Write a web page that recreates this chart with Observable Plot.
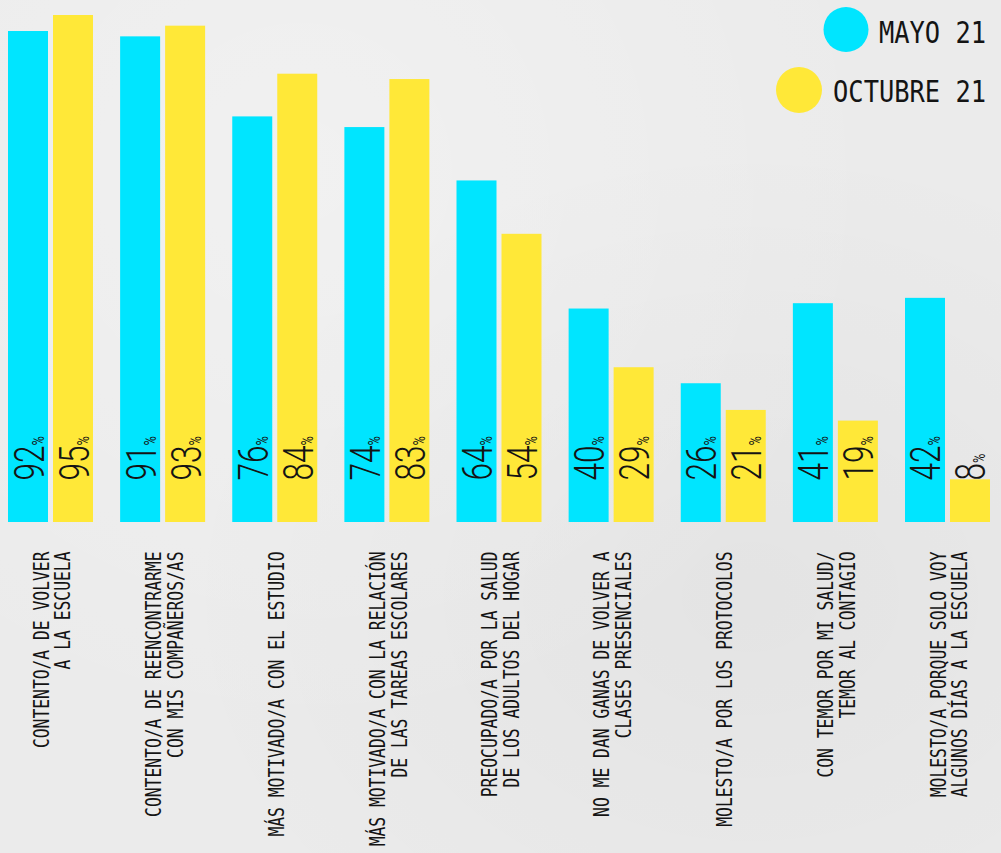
<!DOCTYPE html>
<html>
<head>
<meta charset="utf-8">
<script src="https://cdn.jsdelivr.net/npm/d3@7"></script>
<script src="https://cdn.jsdelivr.net/npm/@observablehq/plot@0.6"></script>
<style>
  html, body { margin: 0; padding: 0; }
  body {
    width: 1001px; height: 853px; overflow: hidden; position: relative;
    background-color: #ebebeb;
    background-image:
      radial-gradient(ellipse at 30% 20%, rgba(255,255,255,0.3), rgba(255,255,255,0) 60%),
      radial-gradient(ellipse at 75% 70%, rgba(0,0,0,0.03), rgba(0,0,0,0) 55%);
  }
  #chart { position: absolute; left: 0; top: 0; }
  #legend { position: absolute; left: 0; top: 0; pointer-events: none; }
</style>
</head>
<body>
<div id="chart"></div>
<svg id="legend" width="1001" height="130"></svg>
<script>
// ---- data ----
const categories = [
  "CONTENTO/A DE VOLVER\nA LA ESCUELA",
  "CONTENTO/A DE REENCONTRARME\nCON MIS COMPAÑEROS/AS",
  "MÁS MOTIVADO/A CON EL ESTUDIO",
  "MÁS MOTIVADO/A CON LA RELACIÓN\nDE LAS TAREAS ESCOLARES",
  "PREOCUPADO/A POR LA SALUD\nDE LOS ADULTOS DEL HOGAR",
  "NO ME DAN GANAS DE VOLVER A\nCLASES PRESENCIALES",
  "MOLESTO/A POR LOS PROTOCOLOS",
  "CON TEMOR POR MI SALUD/\nTEMOR AL CONTAGIO",
  "MOLESTO/A PORQUE SOLO VOY\nALGUNOS DÍAS A LA ESCUELA"
];
const mayo21 = [92, 91, 76, 74, 64, 40, 26, 41, 42];
const octubre21 = [95, 93, 84, 83, 54, 29, 21, 19, 8];
const seriesNames = ["MAYO 21", "OCTUBRE 21"];
const seriesColors = ["#00e5ff", "#ffe838"];

const rows = categories.map((c, i) => ({category: c, mayo: mayo21[i], octubre: octubre21[i]}));

const textColor = "#141414";

const chart = Plot.plot({
  width: 1001,
  height: 853,
  marginTop: 15,
  marginBottom: 331,
  marginLeft: 8,
  marginRight: 11,
  style: {background: "transparent", overflow: "visible"},
  x: {type: "band", domain: categories, paddingInner: 0.2419, paddingOuter: 0, round: false, axis: null},
  y: {domain: [0, 95], axis: null},
  marks: [
    Plot.barY(rows, {x: "category", y: "mayo", fill: seriesColors[0], insetLeft: 0, insetRight: 45}),
    Plot.barY(rows, {x: "category", y: "octubre", fill: seriesColors[1], insetLeft: 45, insetRight: 0}),
    Plot.text(rows, {
      x: "category", text: d => d.mayo + "%", frameAnchor: "bottom", rotate: -90,
      textAnchor: "start", lineAnchor: "bottom", dx: -7.5, dy: -42,
      fontFamily: "Roboto", fontWeight: 300, fontSize: 42, fill: textColor, ariaLabel: () => "val-labels"
    }),
    Plot.text(rows, {
      x: "category", text: d => d.octubre + "%", frameAnchor: "bottom", rotate: -90,
      textAnchor: "start", lineAnchor: "bottom", dx: 37.5, dy: -42,
      fontFamily: "Roboto", fontWeight: 300, fontSize: 42, fill: textColor, ariaLabel: () => "val-labels"
    }),
    Plot.text(rows, {
      x: "category", text: "category", frameAnchor: "bottom", rotate: -90,
      textAnchor: "end", lineAnchor: "middle", lineHeight: 1.02, dx: 1.5, dy: 29,
      fontFamily: "DejaVu Sans Mono", fontSize: 21.5, fill: textColor, ariaLabel: () => "cat-labels"
    })
  ]
});
document.getElementById("chart").appendChild(chart);

// condensed look for the monospace category labels
d3.select(chart).selectAll('text[aria-label="cat-labels"]').each(function() {
  const t = this.getAttribute("transform") || "";
  this.setAttribute("transform", t + " scale(0.76,1)");
});

// condensed value labels with a small % sign
d3.select(chart).selectAll('text[aria-label="val-labels"]').each(function() {
  const t = this.getAttribute("transform") || "";
  this.setAttribute("transform", t + " scale(0.75,1)");
  const s = this.textContent;
  const num = s.replace("%", "");
  this.textContent = "";
  const sel = d3.select(this);
  sel.append("tspan").text(num);
  sel.append("tspan").attr("font-size", 17).attr("font-weight", 400).text("%");
});

// legend
const lg = d3.select("#legend");
const legendItems = [
  {name: seriesNames[0], color: seriesColors[0], cx: 846, cy: 29.5, r: 22.5, ty: 43.3},
  {name: seriesNames[1], color: seriesColors[1], cx: 799, cy: 90, r: 23, ty: 101.7}
];
legendItems.forEach(it => {
  lg.append("circle").attr("cx", it.cx).attr("cy", it.cy).attr("r", it.r).attr("fill", it.color);
  lg.append("text")
    .attr("transform", `translate(986,${it.ty}) scale(0.82,1)`)
    .attr("text-anchor", "end")
    .attr("font-family", "DejaVu Sans Mono")
    .attr("font-size", 31)
    .attr("fill", textColor)
    .text(it.name);
});
</script>
</body>
</html>
